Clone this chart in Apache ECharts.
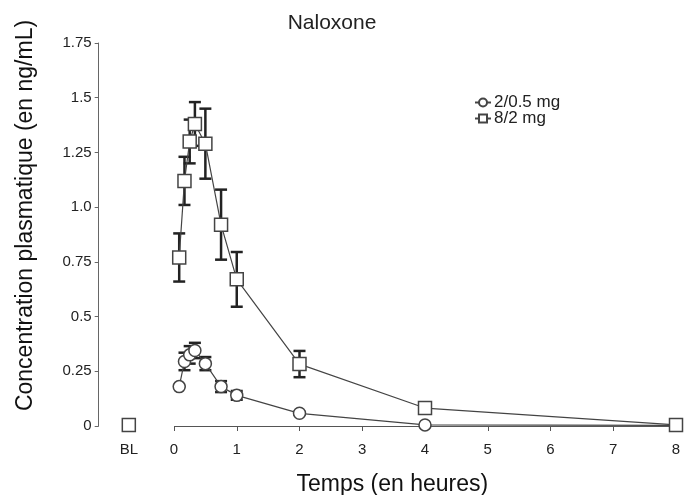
<!DOCTYPE html>
<html>
<head>
<meta charset="utf-8">
<script src="https://cdn.jsdelivr.net/npm/echarts@6/dist/echarts.min.js"></script>
<style>
html,body{margin:0;padding:0;background:#fff;}
#chart{width:684px;height:495px;}
</style>
</head>
<body>
<div id="chart"></div>
<script>
// ---- data ----
const times = [0.083, 0.167, 0.25, 0.333, 0.5, 0.75, 1, 2, 4, 8]; // hours
const blPosition = -0.72; // where the baseline (BL) point sits on the time axis
const seriesNames = ['2/0.5 mg', '8/2 mg'];
const lowDose = [0.18, 0.295, 0.325, 0.345, 0.285, 0.18, 0.14, 0.058, 0.005, 0.003];
const lowDoseErr = [0.0, 0.04, 0.04, 0.035, 0.03, 0.025, 0.02, 0.006, 0.004, 0.002];
const lowDoseBL = 0.005;
const highDose = [0.77, 1.12, 1.30, 1.38, 1.29, 0.92, 0.67, 0.283, 0.082, 0.005];
const highDoseErr = [0.11, 0.11, 0.10, 0.10, 0.16, 0.16, 0.125, 0.06, 0.01, 0.004];
const highDoseBL = 0.005;
const blErr = 0.01;
const xTicks = [0, 1, 2, 3, 4, 5, 6, 7, 8];
const xLabelValues = [blPosition, 0, 1, 2, 3, 4, 5, 6, 7, 8];
const yTicks = [0, 0.25, 0.5, 0.75, 1.0, 1.25, 1.5, 1.75];
const yTickLabels = ['0', '0.25', '0.5', '0.75', '1.0', '1.25', '1.5', '1.75'];

const FONT = "'Liberation Sans', Arial, Helvetica, sans-serif";
const INK = '#444';

function pairs(xs, ys) { return xs.map((x, i) => [x, ys[i]]); }
function errData(xs, ys, es) { return xs.map((x, i) => [x, ys[i] - es[i], ys[i] + es[i]]); }

function errRender(params, api) {
  const x = api.value(0);
  const lo = api.coord([x, api.value(1)]);
  const hi = api.coord([x, api.value(2)]);
  const cap = 6;
  const style = { stroke: '#222', lineWidth: 2.5 };
  return {
    type: 'group',
    children: [
      { type: 'line', shape: { x1: lo[0], y1: lo[1], x2: hi[0], y2: hi[1] }, style: style },
      { type: 'line', shape: { x1: hi[0] - cap, y1: hi[1], x2: hi[0] + cap, y2: hi[1] }, style: style },
      { type: 'line', shape: { x1: lo[0] - cap, y1: lo[1], x2: lo[0] + cap, y2: lo[1] }, style: style }
    ]
  };
}

const markerStyle = { color: '#fff', borderColor: INK, borderWidth: 1.5, opacity: 1 };

const chart = echarts.init(document.getElementById('chart'), null, { renderer: 'canvas' });
chart.setOption({
  animation: false,
  backgroundColor: '#fff',
  title: {
    text: 'Naloxone',
    left: 327,
    textAlign: 'center',
    top: 8,
    textStyle: { fontFamily: FONT, fontSize: 21, fontWeight: 'normal', color: '#222' }
  },
  legend: {
    data: seriesNames,
    orient: 'vertical',
    left: 469,
    top: 89,
    itemWidth: 16,
    itemHeight: 10,
    itemGap: -1,
    textStyle: { fontFamily: FONT, fontSize: 17, color: '#222', padding: [0, 0, 0, -2] }
  },
  grid: { left: 98.7, right: 8, top: 43, bottom: 69, containLabel: false, outerBoundsMode: 'none' },
  xAxis: {
    type: 'value',
    min: -1.2,
    max: 8,
    name: 'Temps (en heures)',
    nameLocation: 'middle',
    nameGap: 47,
    nameTextStyle: { fontFamily: FONT, fontSize: 23, color: '#111', padding: [0, 0, 0, 10] },
    axisLine: { show: false },
    splitLine: { show: false },
    axisTick: { show: true, customValues: xTicks, length: 5, lineStyle: { color: '#555' } },
    axisLabel: {
      customValues: xLabelValues,
      margin: 16,
      fontFamily: FONT, fontSize: 15, color: '#222',
      formatter: v => (Math.abs(v - blPosition) < 1e-6 ? 'BL' : String(v))
    }
  },
  yAxis: {
    type: 'value',
    min: 0,
    max: 1.75,
    interval: 0.25,
    name: 'Concentration plasmatique (en ng/mL)',
    nameLocation: 'middle',
    nameRotate: 90,
    nameGap: 62,
    nameTextStyle: { fontFamily: FONT, fontSize: 23, color: '#111', padding: [0, 0, 0, 38] },
    axisLine: { show: true, onZero: false, lineStyle: { color: '#666', width: 1 } },
    axisTick: { show: true, length: 4, lineStyle: { color: '#666' } },
    splitLine: { show: false },
    axisLabel: {
      margin: 7,
      fontFamily: FONT, fontSize: 15, color: '#222',
      formatter: v => { const i = yTicks.findIndex(t => Math.abs(t - v) < 1e-9); return i >= 0 ? yTickLabels[i] : ''; }
    }
  },
  series: [
    {
      name: seriesNames[0],
      type: 'line',
      data: pairs(times, lowDose),
      symbol: 'circle',
      symbolSize: 12,
      itemStyle: markerStyle,
      lineStyle: { color: '#444', width: 1.2 },
      z: 5,
      markLine: {
        silent: true,
        symbol: 'none',
        label: { show: false },
        lineStyle: { color: '#555', width: 1, type: 'solid' },
        data: [[{ coord: [xTicks[0], 0] }, { coord: [xTicks[xTicks.length - 1], 0] }]]
      }
    },
    {
      name: seriesNames[1],
      type: 'line',
      data: pairs(times, highDose),
      symbol: 'rect',
      symbolSize: 13,
      itemStyle: markerStyle,
      lineStyle: { color: '#444', width: 1.2 },
      z: 5
    },
    {
      name: seriesNames[0],
      type: 'scatter',
      data: [[blPosition, lowDoseBL]],
      symbol: 'circle', symbolSize: 12, itemStyle: markerStyle, z: 5
    },
    {
      name: seriesNames[1],
      type: 'scatter',
      data: [[blPosition, highDoseBL]],
      symbol: 'rect', symbolSize: 13, itemStyle: markerStyle, z: 5
    },
    {
      type: 'custom',
      renderItem: errRender,
      data: errData(times, highDose, highDoseErr).concat([[blPosition, highDoseBL - blErr, highDoseBL + blErr]]),
      encode: { x: 0, y: [1, 2] },
      z: 3
    },
    {
      type: 'custom',
      renderItem: errRender,
      data: errData(times, lowDose, lowDoseErr),
      encode: { x: 0, y: [1, 2] },
      z: 3
    }
  ]
});
</script>
</body>
</html>
